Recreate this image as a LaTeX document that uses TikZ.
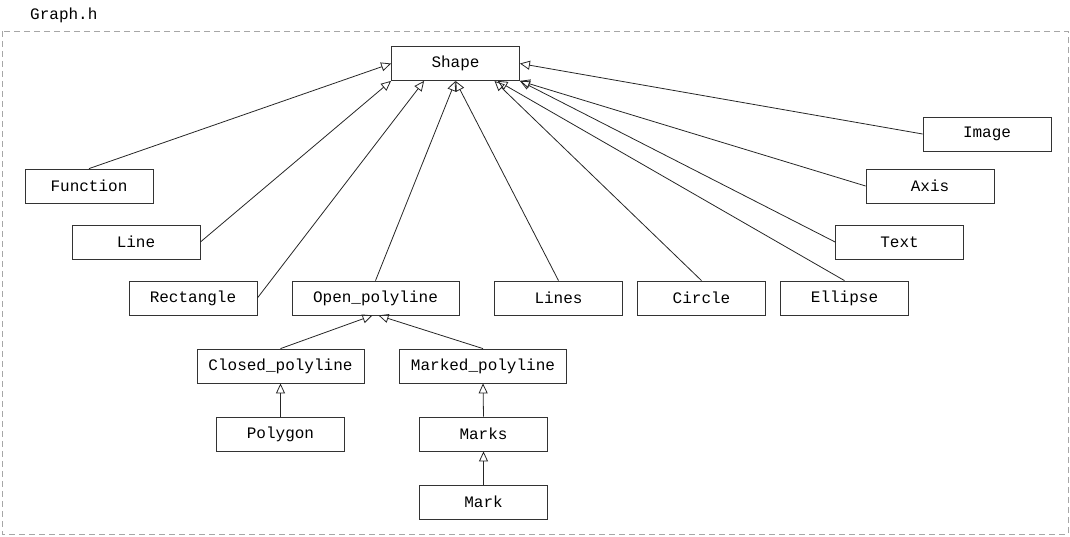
\documentclass[tikz,border=0pt]{standalone}
\usepackage{fontspec}
\setmonofont{Liberation Mono}
\usepackage{tikz}
\usetikzlibrary{arrows.meta}

\begin{document}
\begin{tikzpicture}[x=1pt,y=-1pt,
	cls/.style={draw=black!80,line width=0.8pt,minimum width=128pt,minimum height=34pt,inner sep=0pt,font=\ttfamily\fontsize{16}{19}\selectfont},
	wide/.style={cls,minimum width=167pt},
	inherit/.style={line width=0.8pt,draw=black!85,-{Triangle[open,length=10pt,width=9pt]}}]
	\useasboundingbox (0,0) rectangle (1070,536);
	% frame of the header file
	\draw[black!35,line width=0.8pt,dash pattern=on 6pt off 4pt] (2,31) rectangle (1068,534);
	\node[anchor=west,font=\ttfamily\fontsize{16}{19}\selectfont,inner sep=0pt] (file) at (30,15) {Graph.h};
	% classes
	\node[cls] (shape) at (455.5,63.5) {Shape};
	\node[cls] (image) at (987,134) {Image};
	\node[cls] (function) at (89,186) {Function};
	\node[cls] (axis) at (930,186) {Axis};
	\node[cls] (line) at (136,242) {Line};
	\node[cls] (text) at (899.5,242) {Text};
	\node[cls] (rectangle) at (193,298) {Rectangle};
	\node[wide] (openpl) at (375.5,298) {Open\_polyline};
	\node[cls] (lines) at (558.5,298) {Lines};
	\node[cls] (circle) at (701.5,298) {Circle};
	\node[cls] (ellipse) at (844.5,298) {Ellipse};
	\node[wide] (closedpl) at (280.5,366) {Closed\_polyline};
	\node[wide] (markedpl) at (483,366) {Marked\_polyline};
	\node[cls] (polygon) at (280.5,434) {Polygon};
	\node[cls] (marks) at (483.5,434) {Marks};
	\node[cls] (mark) at (483.5,502) {Mark};
	% inheritance
	\draw[inherit] (function.north) -- (shape.west);
	\draw[inherit] (line.east) -- (shape.south west);
	\draw[inherit] (rectangle.east) -- ([xshift=33pt]shape.south west);
	\draw[inherit] (openpl.north) -- (shape.south);
	\draw[inherit] (lines.north) -- (shape.south);
	\draw[inherit] (circle.north) -- ([xshift=39pt]shape.south);
	\draw[inherit] (ellipse.north) -- ([xshift=42pt]shape.south);
	\draw[inherit] (text.west) -- (shape.south east);
	\draw[inherit] (axis.west) -- (shape.south east);
	\draw[inherit] (image.west) -- (shape.east);
	\draw[inherit] (closedpl.north) -- ([xshift=-3pt]openpl.south);
	\draw[inherit] (markedpl.north) -- ([xshift=3pt]openpl.south);
	\draw[inherit] (polygon.north) -- (closedpl.south);
	\draw[inherit] (marks.north) -- (markedpl.south);
	\draw[inherit] (mark.north) -- (marks.south);
\end{tikzpicture}
\end{document}
